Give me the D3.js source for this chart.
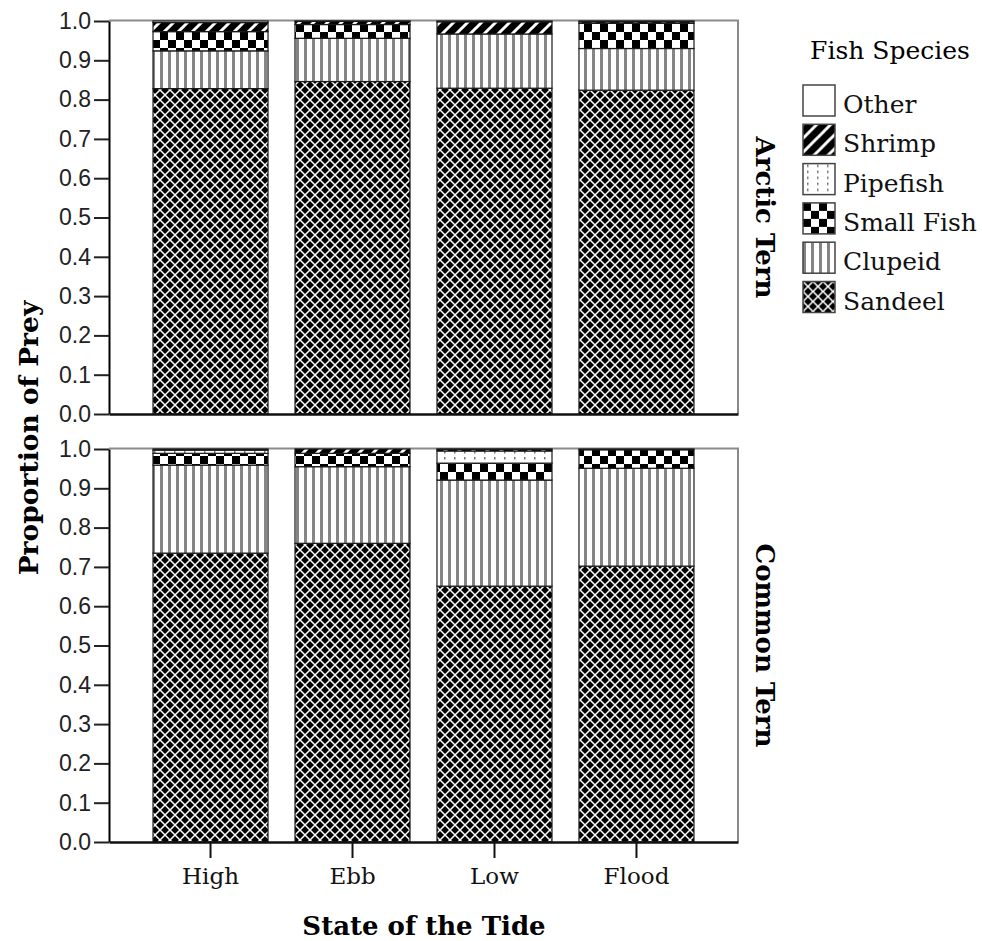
<!DOCTYPE html>
<html><head><meta charset="utf-8">
<script src="https://cdn.jsdelivr.net/npm/d3@7"></script>
<style>body{margin:0;background:#fff}</style>
</head><body>
<svg id="chart" width="982" height="941"></svg>
<script>
// ---------- data ----------
const categories = ["High", "Ebb", "Low", "Flood"];
const species = ["Sandeel", "Clupeid", "Small Fish", "Pipefish", "Shrimp", "Other"]; // stack order, bottom to top
const panelNames = ["Arctic Tern", "Common Tern"];
const yTicks = [0.0, 0.1, 0.2, 0.3, 0.4, 0.5, 0.6, 0.7, 0.8, 0.9, 1.0];

// Arctic Tern proportions per tide state (High, Ebb, Low, Flood)
const arcticSandeel   = [0.828, 0.846, 0.829, 0.824];
const arcticClupeid   = [0.096, 0.110, 0.138, 0.106];
const arcticSmallFish = [0.049, 0.035, 0.000, 0.064];
const arcticPipefish  = [0.000, 0.000, 0.000, 0.000];
const arcticShrimp    = [0.023, 0.008, 0.031, 0.004];
const arcticOther     = [0.004, 0.001, 0.002, 0.002];

// Common Tern proportions per tide state (High, Ebb, Low, Flood)
const commonSandeel   = [0.735, 0.760, 0.651, 0.702];
const commonClupeid   = [0.224, 0.195, 0.270, 0.249];
const commonSmallFish = [0.030, 0.034, 0.043, 0.047];
const commonPipefish  = [0.008, 0.000, 0.031, 0.000];
const commonShrimp    = [0.000, 0.011, 0.004, 0.002];
const commonOther     = [0.003, 0.000, 0.001, 0.000];

function rows(series) {
  return categories.map((c, i) => {
    const r = { tide: c };
    species.forEach((s, j) => r[s] = series[j][i]);
    return r;
  });
}
const arcticRows = rows([arcticSandeel, arcticClupeid, arcticSmallFish, arcticPipefish, arcticShrimp, arcticOther]);
const commonRows = rows([commonSandeel, commonClupeid, commonSmallFish, commonPipefish, commonShrimp, commonOther]);

// ---------- drawing ----------
const svg = d3.select("#chart");
const defs = svg.append("defs");
const SERIF = "'DejaVu Serif', serif";
const SANS = "'Liberation Sans', Arial, sans-serif";

function pattern(id, w, h, build) {
  const p = defs.append("pattern").attr("id", id)
    .attr("patternUnits", "userSpaceOnUse").attr("width", w).attr("height", h);
  build(p, w, h);
}
pattern("p-sandeel", 10, 10, (p, w, h) => {
  p.append("rect").attr("width", w).attr("height", h).attr("fill", "#000");
  p.append("path").attr("d", "M-1,-1L11,11M11,-1L-1,11")
    .attr("stroke", "#fff").attr("stroke-width", 1.5);
});
pattern("p-clupeid", 8, 8, (p, w, h) => {
  p.append("rect").attr("width", w).attr("height", h).attr("fill", "#fff");
  p.append("rect").attr("x", 0).attr("width", 3).attr("height", h).attr("fill", "#858585");
});
pattern("p-small", 16, 16, (p, w, h) => {
  p.append("rect").attr("width", w).attr("height", h).attr("fill", "#fff");
  p.append("rect").attr("width", 8).attr("height", 8).attr("fill", "#000");
  p.append("rect").attr("x", 8).attr("y", 8).attr("width", 8).attr("height", 8).attr("fill", "#000");
});
pattern("p-pipe", 10, 6, (p, w, h) => {
  p.append("rect").attr("width", w).attr("height", h).attr("fill", "#fff");
  p.append("rect").attr("x", 4).attr("y", 1).attr("width", 1.5).attr("height", 2.5).attr("fill", "#777");
});
pattern("p-shrimp", 14, 14, (p, w, h) => {
  p.append("rect").attr("width", w).attr("height", h).attr("fill", "#000");
  p.append("path").attr("d", "M-3,17L17,-3M-10,10L10,-10M4,24L24,4")
    .attr("stroke", "#fff").attr("stroke-width", 3);
});
const fills = {
  "Sandeel": "url(#p-sandeel)", "Clupeid": "url(#p-clupeid)", "Small Fish": "url(#p-small)",
  "Pipefish": "url(#p-pipe)", "Shrimp": "url(#p-shrimp)", "Other": "#fff"
};

const x = d3.scaleBand().domain(categories).range([109, 738])
  .paddingInner(0.19).paddingOuter(0.31);

const panelsCfg = [
  { name: panelNames[0], top: 21, bottom: 414, data: arcticRows, last: false },
  { name: panelNames[1], top: 449, bottom: 842, data: commonRows, last: true }
];
const stack = d3.stack().keys(species);

panelsCfg.forEach(cfg => {
  const y = d3.scaleLinear().domain([0, 1]).range([cfg.bottom, cfg.top]);
  const g = svg.append("g");

  // frame (top and right, grey)
  g.append("path")
    .attr("d", `M${x.range()[0]},${y(1) - 0.5}H${x.range()[1]}V${y(0)}`)
    .attr("fill", "none").attr("stroke", "#8a8a8a").attr("stroke-width", 2);

  // bars
  const layers = stack(cfg.data);
  g.selectAll("g.layer").data(layers).join("g").attr("class", "layer")
    .attr("fill", d => fills[d.key])
    .selectAll("rect").data(d => d.filter(v => v[1] - v[0] > 0)).join("rect")
    .attr("x", d => x(d.data.tide))
    .attr("width", x.bandwidth())
    .attr("y", d => y(d[1]))
    .attr("height", d => y(d[0]) - y(d[1]))
    .attr("stroke", "#1a1a1a").attr("stroke-width", 1.2);

  // y axis
  const ya = g.append("g").attr("transform", `translate(${x.range()[0]},0)`)
    .call(d3.axisLeft(y).tickValues(yTicks).tickFormat(d3.format(".1f"))
      .tickSize(15).tickSizeOuter(0).tickPadding(3));
  ya.selectAll("path.domain").attr("stroke", "#000").attr("stroke-width", 2);
  ya.selectAll(".tick line").attr("stroke", "#222").attr("stroke-width", 2);
  ya.selectAll(".tick text").attr("font-family", SANS).attr("font-size", 23).attr("fill", "#222");

  // bottom axis
  const xa = g.append("g").attr("transform", `translate(0,${cfg.bottom})`)
    .call(d3.axisBottom(x).tickSize(cfg.last ? 16 : 0).tickSizeOuter(0).tickPadding(10));
  xa.selectAll("path.domain").attr("stroke", "#111").attr("stroke-width", 2.5);
  xa.selectAll(".tick line").attr("stroke", "#111").attr("stroke-width", 2);
  xa.selectAll(".tick text").attr("font-family", SERIF).attr("font-size", 23).attr("fill", "#111");
  if (!cfg.last) xa.selectAll(".tick").remove();

  // strip label
  svg.append("text")
    .attr("transform", `translate(765,${(cfg.top + cfg.bottom) / 2}) rotate(90)`)
    .attr("text-anchor", "middle").attr("dominant-baseline", "central")
    .attr("font-family", SERIF).attr("font-weight", "bold").attr("font-size", 26)
    .text(cfg.name);
});

// axis titles
svg.append("text")
  .attr("transform", "translate(38,438) rotate(-90)")
  .attr("text-anchor", "middle")
  .attr("font-family", SERIF).attr("font-weight", "bold").attr("font-size", 26.5)
  .text("Proportion of Prey");
svg.append("text")
  .attr("x", 424).attr("y", 935).attr("text-anchor", "middle")
  .attr("font-family", SERIF).attr("font-weight", "bold").attr("font-size", 26)
  .text("State of the Tide");

// legend
const lg = svg.append("g");
lg.append("text").attr("x", 890).attr("y", 59).attr("text-anchor", "middle")
  .attr("font-family", SERIF).attr("font-size", 25).text("Fish Species");
const legendOrder = species.slice().reverse();
const li = lg.selectAll("g.item").data(legendOrder).join("g").attr("class", "item")
  .attr("transform", (d, i) => `translate(803,${85 + i * 39.3})`);
li.append("rect").attr("width", 32).attr("height", 31)
  .attr("fill", d => fills[d]).attr("stroke", "#444").attr("stroke-width", 1.5);
li.append("text").attr("x", 40).attr("y", 28)
  .attr("font-family", SERIF).attr("font-size", 25).attr("fill", "#111").text(d => d);
</script>
</body></html>
